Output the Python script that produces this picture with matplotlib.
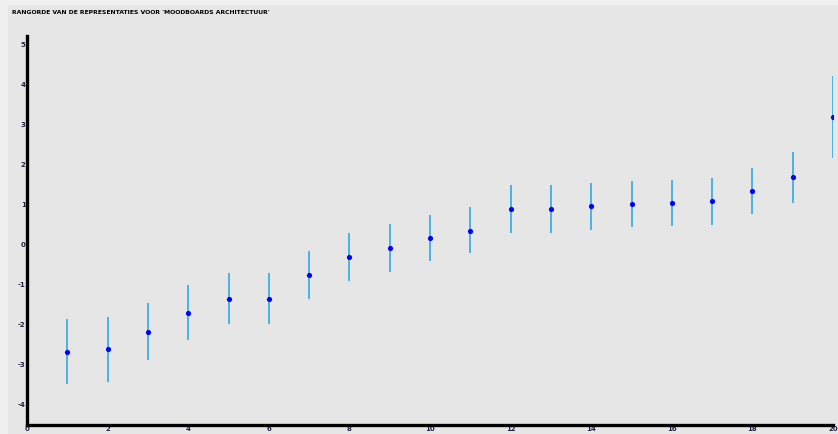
import numpy as np
import matplotlib.pyplot as plt
from matplotlib.patches import Rectangle

plt.rcParams['axes.unicode_minus'] = False

# Data
rank = list(range(1, 21))
score = [-2.70, -2.62, -2.20, -1.72, -1.37, -1.37, -0.78, -0.33, -0.10, 0.15,
         0.33, 0.87, 0.87, 0.95, 1.00, 1.02, 1.07, 1.32, 1.67, 3.17]
upper = [-1.87, -1.82, -1.47, -1.02, -0.72, -0.72, -0.17, 0.27, 0.50, 0.72,
         0.92, 1.47, 1.47, 1.52, 1.57, 1.60, 1.65, 1.90, 2.30, 4.20]
lower = [-3.50, -3.45, -2.90, -2.40, -2.00, -2.00, -1.37, -0.92, -0.70, -0.42,
         -0.23, 0.27, 0.27, 0.35, 0.42, 0.45, 0.47, 0.75, 1.02, 2.15]
xticks = list(range(0, 21, 2))
yticks = list(range(-4, 6))
title = "RANGORDE VAN DE REPRESENTATIES VOOR 'MOODBOARDS ARCHITECTUUR'"

W, H = 838, 434
fig = plt.figure(figsize=(W/100, H/100), dpi=100)
fig.patch.set_facecolor('#f0f0f0')
fig.patches.append(Rectangle((8/W, 0), 1, 1 - 5/H, transform=fig.transFigure,
                             facecolor='#e6e6e6', edgecolor='none', zorder=-10))

ax = fig.add_axes([27/W, 9/H, (833-27)/W, (425-36)/H])
ax.set_facecolor('#e6e6e6')

for i in range(len(rank)):
    ax.vlines(rank[i], lower[i], upper[i], colors='#1ca6e6', linewidth=1.1, zorder=2)
ax.scatter(rank, score, s=14, color='#0000ff', zorder=3, linewidths=0)

ax.set_xlim(0, 20)
ax.set_ylim(-4.52, 5.2)
ax.set_xticks(xticks)
ax.set_yticks(yticks)
ax.tick_params(length=0, labelsize=5, pad=1)
for lab in ax.get_xticklabels() + ax.get_yticklabels():
    lab.set_fontweight('bold')
    lab.set_color('#222244')

for s in ['top', 'right']:
    ax.spines[s].set_visible(False)
for s in ['left', 'bottom']:
    ax.spines[s].set_linewidth(2.4)
    ax.spines[s].set_color('black')

fig.text(12/W, 1 - 12/H, title, fontsize=4.4, fontweight='bold', va='center', ha='left')

fig.savefig('out.png', dpi=100, facecolor=fig.get_facecolor())
